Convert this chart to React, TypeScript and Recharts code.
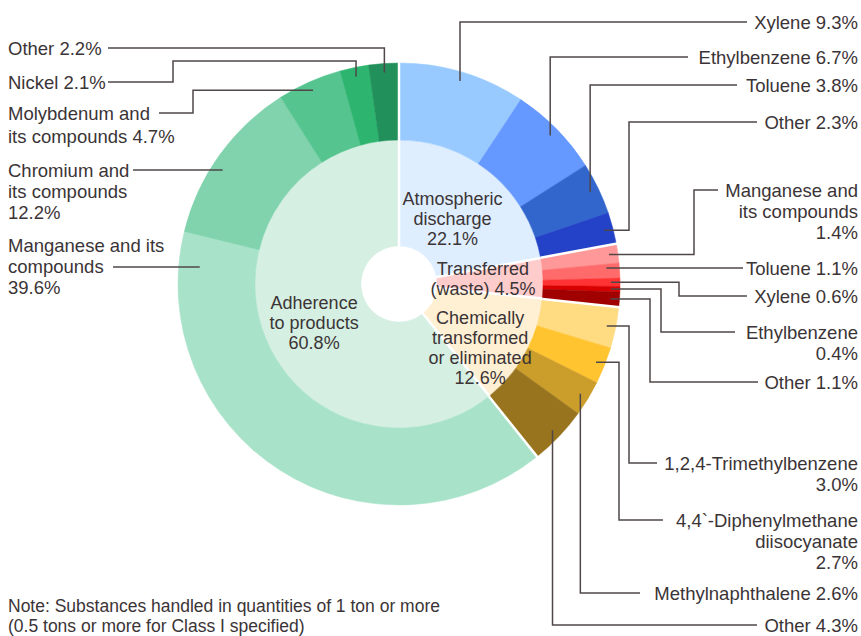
import { PieChart, Pie, Cell } from 'recharts'

// inner ring: where the substances go
const groupNames = ['Atmospheric discharge', 'Transferred (waste)', 'Chemically transformed or eliminated', 'Adherence to products']
const groupValues = [22.1, 4.5, 12.6, 60.8]
const groupLabels = [
  ['Atmospheric', 'discharge', '22.1%'],
  ['Transferred', '(waste) 4.5%'],
  ['Chemically', 'transformed', 'or eliminated', '12.6%'],
  ['Adherence', 'to products', '60.8%'],
]
const groupColors = ['#deeeff', '#ffcccc', '#fff0d4', '#d5efe2']

// outer ring: substances, clockwise from the top
const itemNames = [
  'Xylene', 'Ethylbenzene', 'Toluene', 'Other',
  'Manganese and its compounds', 'Toluene', 'Xylene', 'Ethylbenzene', 'Other',
  '1,2,4-Trimethylbenzene', '4,4`-Diphenylmethane diisocyanate', 'Methylnaphthalene', 'Other',
  'Manganese and its compounds', 'Chromium and its compounds', 'Molybdenum and its compounds', 'Nickel', 'Other',
]
const itemValues = [9.3, 6.7, 3.8, 2.3, 1.4, 1.1, 0.6, 0.4, 1.1, 3.0, 2.7, 2.6, 4.3, 39.6, 12.2, 4.7, 2.1, 2.2]
const itemGroup = [0, 0, 0, 0, 1, 1, 1, 1, 1, 2, 2, 2, 2, 3, 3, 3, 3, 3]
const itemLabels = [
  ['Xylene 9.3%'],
  ['Ethylbenzene 6.7%'],
  ['Toluene 3.8%'],
  ['Other 2.3%'],
  ['Manganese and', 'its compounds', '1.4%'],
  ['Toluene 1.1%'],
  ['Xylene 0.6%'],
  ['Ethylbenzene', '0.4%'],
  ['Other 1.1%'],
  ['1,2,4-Trimethylbenzene', '3.0%'],
  ['4,4`-Diphenylmethane', 'diisocyanate', '2.7%'],
  ['Methylnaphthalene 2.6%'],
  ['Other 4.3%'],
  ['Manganese and its', 'compounds', '39.6%'],
  ['Chromium and', 'its compounds', '12.2%'],
  ['Molybdenum and', 'its compounds 4.7%'],
  ['Nickel 2.1%'],
  ['Other 2.2%'],
]
const itemColors = [
  '#99caff', '#6699ff', '#3366cc', '#2342c8',
  '#ff9999', '#ff6b6b', '#ff3333', '#d80000', '#a00000',
  '#ffdb82', '#ffc430', '#cb9d2a', '#98741e',
  '#a8e3c9', '#80d3ac', '#55c48f', '#2db46e', '#21905a',
]
const noteLines = ['Note: Substances handled in quantities of 1 ton or more', '(0.5 tons or more for Class I specified)']

const groupData = groupNames.map((name, i) => ({ name, value: groupValues[i] }))
const itemData = itemNames.map((name, i) => ({ name, value: itemValues[i], group: itemGroup[i] }))

const CX = 399
const CY = 284
const HOLE = 38
const MID = 144
const OUTER = 221
const FONT = '"Liberation Sans", Arial, sans-serif'
const TEXT = '#3b3436'
const LINE = '#4f4748'
const RAD = Math.PI / 180

// inner label offsets from the slice middle (radius 90)
const groupLayout = [
  { dx: -4, dy: 4 },
  { dx: -6, dy: -1 },
  { dx: 2, dy: 21 },
  { dx: 0, dy: 9 },
]

// leader line routing for the outer labels
type Lay = { side: 'r' | 'l'; ty: number; ly?: number; route: 'v' | 'h' | 'hvh' | 'vhv'; endX: number; midX?: number; midY?: number; r?: number; lh?: number }
const itemLayout: Lay[] = [
  { side: 'r', ty: 22, route: 'v', endX: 747 },
  { side: 'r', ty: 57, route: 'v', endX: 688 },
  { side: 'r', ty: 85, route: 'v', endX: 737 },
  { side: 'r', ty: 122, route: 'hvh', midX: 629, endX: 757 },
  { side: 'r', ty: 190, route: 'hvh', midX: 694, endX: 718 },
  { side: 'r', ty: 268, route: 'h', r: 208, endX: 743 },
  { side: 'r', ty: 296, route: 'hvh', midX: 679, endX: 747 },
  { side: 'r', ty: 332, route: 'hvh', midX: 661, endX: 735 },
  { side: 'r', ty: 382, route: 'hvh', midX: 650, endX: 758 },
  { side: 'r', ty: 463, route: 'hvh', midX: 629, endX: 657 },
  { side: 'r', ty: 520, route: 'hvh', midX: 619, endX: 663 },
  { side: 'r', ty: 593, route: 'v', endX: 640 },
  { side: 'r', ty: 625, route: 'v', endX: 757 },
  { side: 'l', ty: 245, ly: 267, route: 'h', r: 200, endX: 113 },
  { side: 'l', ty: 170, route: 'h', r: 210, endX: 133 },
  { side: 'l', ty: 113, route: 'hvh', midX: 193, endX: 159, lh: 23 },
  { side: 'l', ty: 82, route: 'vhv', midY: 61, midX: 173, endX: 108 },
  { side: 'l', ty: 48, route: 'v', endX: 108 },
]

const pt = (cx: number, cy: number, r: number, angle: number) => [cx + r * Math.cos(-angle * RAD), cy + r * Math.sin(-angle * RAD)]

// one text element per label, one tspan per line
function Lines({ x, y, lines, anchor, lh, fs }: { x: number; y: number; lines: string[]; anchor: 'start' | 'middle' | 'end'; lh: number; fs: number }) {
  return (
    <text x={x} y={y} textAnchor={anchor} dominantBaseline="central" fill={TEXT} fontSize={fs} fontFamily={FONT}>
      {lines.map((t, i) => (
        <tspan key={i} x={x} dy={i === 0 ? 0 : lh}>
          {t}
        </tspan>
      ))}
    </text>
  )
}

// white separators between the inner groups
const renderGroupSep = (props: any) => {
  const { cx, cy, startAngle, innerRadius, outerRadius, index } = props
  const [x1, y1] = pt(cx, cy, innerRadius - 1, startAngle)
  const [x2, y2] = pt(cx, cy, outerRadius, startAngle)
  return <line key={`s-${index}`} x1={x1} y1={y1} x2={x2} y2={y2} stroke="#fff" strokeWidth={2.5} />
}

const renderGroupText = (props: any) => {
  const { cx, cy, midAngle, index } = props
  const lines = groupLabels[index]
  const [mx, my] = pt(cx, cy, 90, midAngle)
  const o = groupLayout[index]
  const lh = 20.2
  return (
    <g key={`g-${index}`}>
      <Lines x={mx + o.dx} y={my + o.dy - ((lines.length - 1) * lh) / 2} lines={lines} anchor="middle" lh={lh} fs={18} />
    </g>
  )
}

const renderItemLabel = (props: any) => {
  const { cx, cy, midAngle, startAngle, innerRadius, outerRadius, index } = props
  const lay = itemLayout[index]
  const ly = lay.ly ?? lay.ty
  let a = pt(cx, cy, 212, midAngle)
  if (lay.route === 'h') {
    const r = lay.r ?? 210
    const dx = Math.sqrt(r * r - (ly - cy) * (ly - cy))
    a = [lay.side === 'r' ? cx + dx : cx - dx, ly]
  }
  let pts: number[][] = []
  if (lay.route === 'v') pts = [a, [a[0], ly], [lay.endX, ly]]
  if (lay.route === 'h') pts = [a, [lay.endX, ly]]
  if (lay.route === 'hvh') pts = [a, [lay.midX!, a[1]], [lay.midX!, ly], [lay.endX, ly]]
  if (lay.route === 'vhv') pts = [a, [a[0], lay.midY!], [lay.midX!, lay.midY!], [lay.midX!, ly], [lay.endX, ly]]
  const first = index === 0 || itemGroup[index] !== itemGroup[index - 1]
  const [x1, y1] = pt(cx, cy, innerRadius, startAngle)
  const [x2, y2] = pt(cx, cy, outerRadius + 1, startAngle)
  return (
    <g key={`i-${index}`}>
      {first && <line x1={x1} y1={y1} x2={x2} y2={y2} stroke="#fff" strokeWidth={2.5} />}
      <polyline points={pts.map((p) => p.join(',')).join(' ')} fill="none" stroke={LINE} strokeWidth={1.5} />
      <Lines x={lay.side === 'r' ? 858 : 8} y={lay.ty} lines={itemLabels[index]} anchor={lay.side === 'r' ? 'end' : 'start'} lh={lay.lh ?? 21} fs={18.5} />
    </g>
  )
}

export default function App() {
  return (
    <div style={{ position: 'absolute', left: 0, top: 0, width: 861, height: 636, background: '#fff' }}>
      <PieChart width={861} height={636} margin={{ top: 0, right: 0, bottom: 0, left: 0 }}>
        <Pie
          data={groupData}
          dataKey="value"
          cx={CX}
          cy={CY}
          innerRadius={HOLE}
          outerRadius={MID}
          startAngle={90}
          endAngle={-270}
          stroke="none"
          label={renderGroupSep}
          labelLine={false}
          isAnimationActive={false}
        >
          {groupData.map((d, i) => (
            <Cell key={d.name} fill={groupColors[i]} stroke={groupColors[i]} strokeWidth={0.5} />
          ))}
        </Pie>
        <Pie
          data={itemData}
          dataKey="value"
          cx={CX}
          cy={CY}
          innerRadius={MID}
          outerRadius={OUTER}
          startAngle={90}
          endAngle={-270}
          stroke="none"
          label={renderItemLabel}
          labelLine={false}
          isAnimationActive={false}
        >
          {itemData.map((d, i) => (
            <Cell key={i} fill={itemColors[i]} stroke={itemColors[i]} strokeWidth={0.5} />
          ))}
        </Pie>
        {/* same inner data again, only to put its texts above the separators */}
        <Pie
          data={groupData}
          dataKey="value"
          cx={CX}
          cy={CY}
          innerRadius={HOLE}
          outerRadius={MID}
          startAngle={90}
          endAngle={-270}
          fill="none"
          stroke="none"
          label={renderGroupText}
          labelLine={false}
          isAnimationActive={false}
        >
          {groupData.map((d) => (
            <Cell key={d.name} fill="none" stroke="none" />
          ))}
        </Pie>
      </PieChart>
      <svg width={500} height={52} style={{ position: 'absolute', left: 0, top: 584 }}>
        <Lines x={8} y={22} lines={noteLines} anchor="start" lh={19.8} fs={17.5} />
      </svg>
    </div>
  )
}
